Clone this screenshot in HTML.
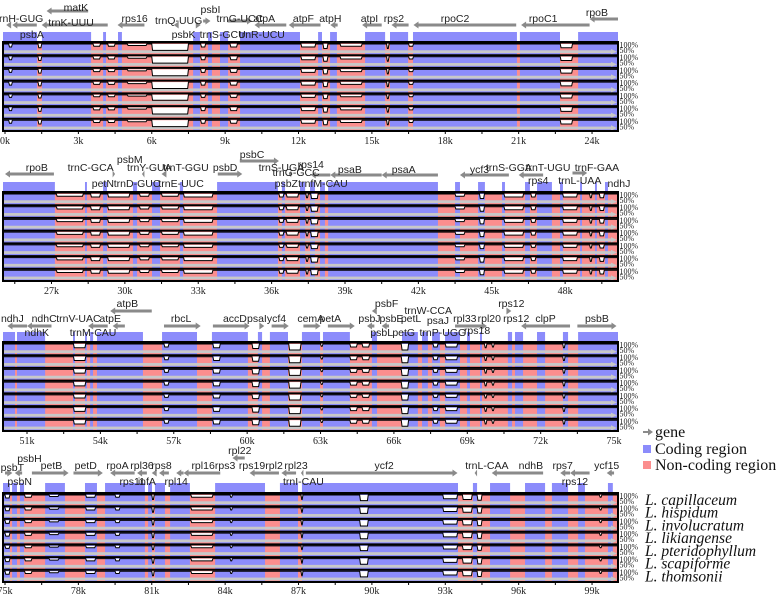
<!DOCTYPE html>
<html><head><meta charset="utf-8">
<style>
html,body{margin:0;padding:0;background:#fff;}
svg{display:block;}
.gl{font-family:"Liberation Sans",sans-serif;font-size:10.5px;fill:#222;}
.tk{font-family:"Liberation Serif",serif;font-size:10px;fill:#222;}
.pc{font-family:"Liberation Serif",serif;font-size:8px;fill:#222;}
.lg{font-family:"Liberation Serif",serif;font-size:16px;fill:#111;}
.sp{font-family:"Liberation Serif",serif;font-size:15.5px;font-style:italic;fill:#111;}
</style></head>
<body>
<svg id="chart" width="778" height="595" viewBox="0 0 778 595"></svg>
<script>
// ---- data ----
const panelStarts = [0, 25.1, 50.1, 75];
const species = ["L. capillaceum","L. hispidum","L. involucratum","L. likiangense","L. pteridophyllum","L. scapiforme","L. thomsonii"];
const speciesScale = [1, 1, 1, 1, 0.85, 1, 1];
const tickValues = [[0,3,6,9,12,15,18,21,24],[27,30,33,36,39,42,45,48],[51,54,57,60,63,66,69,72,75],[75,78,81,84,87,90,93,96,99]];
// non-coding (pink) intervals in kb
const nonCoding1 = [[1.31,1.51],[3.52,4.01],[4.13,4.62],[4.78,7.69],[7.97,8.30],[8.46,8.79],[9.12,9.61],[12.06,12.80],[12.96,13.29],[13.57,14.72],[15.54,15.74],[16.48,16.68],[20.93,21.05],[22.69,23.43]];
const nonCoding2 = [[27.14,28.37],[28.45,29.11],[29.27,30.33],[30.50,31.11],[31.44,32.25],[32.38,33.77],[36.26,36.42],[36.55,37.16],[37.37,37.57],[37.77,37.98],[38.18,38.31],[42.80,43.50],[43.70,44.44],[44.72,45.42],[45.54,46.36],[46.56,46.85],[47.46,47.79],[47.91,48.61],[48.69,49.22],[49.30,49.63],[49.75,50.16]];
const nonCoding3 = [[50.51,50.59],[51.74,52.88],[52.96,53.37],[53.45,53.58],[53.70,53.86],[55.74,56.52],[57.95,58.56],[60.03,60.44],[60.61,60.93],[61.67,62.24],[62.98,63.10],[64.20,65.10],[65.31,66.33],[66.98,67.15],[67.39,67.56],[67.88,68.09],[68.70,68.99],[69.11,69.52],[69.60,70.66],[70.83,70.95],[71.28,71.85],[72.18,72.91],[73.12,73.53]];
const nonCoding4 = [[75.20,75.29],[75.49,75.61],[75.78,76.64],[77.45,78.27],[78.76,79.09],[80.72,80.85],[81.01,81.13],[81.54,81.75],[82.56,83.59],[85.63,86.24],[86.98,87.14],[93.52,94.13],[94.30,94.83],[95.65,96.26],[97.08,97.36],[98.02,98.43],[98.71,99.65],[99.85,100.06]];
// conservation dips: [start kb, end kb, depth fraction]
const dips1 = [[0.15,0.3,0.4],[1.35,1.5,0.5],[3.6,3.9,0.3],[4.2,4.5,0.3],[5.0,5.8,0.2],[6.0,7.5,0.85],[8.0,8.2,0.4],[9.2,9.5,0.4],[12.1,12.7,0.4],[13.0,13.2,0.6],[13.7,14.6,0.3],[15.6,15.7,0.6],[16.5,16.7,0.3],[22.7,23.2,0.5]];
const dips2 = [[27.2,28.3,0.3],[28.6,29.0,0.4],[29.3,30.2,0.4],[30.6,31.0,0.3],[31.5,32.2,0.3],[32.4,33.6,0.4],[36.3,36.5,0.4],[36.6,37.1,0.4],[37.4,37.5,0.5],[37.6,37.9,0.6],[43.5,43.9,0.3],[44.5,44.7,0.6],[45.5,46.3,0.4],[46.6,46.8,0.4],[47.9,48.5,0.4],[49.0,49.1,0.5],[49.4,49.6,0.5]];
const dips3 = [[52.9,53.4,0.5],[56.6,56.8,0.4],[58.6,58.9,0.5],[60.2,60.5,0.6],[61.7,62.2,0.8],[63.0,63.1,0.3],[64.2,64.5,0.4],[64.7,65.0,0.4],[66.3,66.6,0.8],[67.6,67.8,0.4],[68.1,68.6,0.4],[69.7,69.8,0.5],[70.0,70.1,0.4],[72.9,73.0,0.5]];
const dips4 = [[75.0,75.2,0.4],[75.8,76.1,0.3],[76.8,77.2,0.2],[78.3,78.7,0.3],[79.5,79.7,0.3],[81.0,81.1,0.6],[82.6,83.5,0.3],[84.2,84.3,0.3],[87.1,87.16,0.6],[89.5,89.85,0.75],[92.9,93.5,0.5],[93.7,94.1,0.6],[94.3,94.5,0.7],[99.3,99.4,0.3]];
const nonCoding = [nonCoding1, nonCoding2, nonCoding3, nonCoding4];
const dips = [dips1, dips2, dips3, dips4];
// gene labels [text, kb, yOffset]
const genes1 = [["trnH-GUG",0.6,-24],["matK",2.9,-35],["trnK-UUU",2.7,-20],["psbA",1.1,-8],["rps16",5.3,-24],["trnQ-UUG",7.1,-22],["psbI",8.4,-33],["trnG-UCC",9.6,-24],["psbK",7.3,-8],["trnS-GCU",8.9,-8],["trnR-UCU",10.5,-8],["atpA",10.6,-24],["atpF",12.2,-24],["atpH",13.3,-24],["atpI",14.9,-24],["rps2",15.9,-24],["rpoC2",18.4,-24],["rpoC1",22.0,-24],["rpoB",24.2,-30]];
const genes2 = [["rpoB",26.4,-24],["trnC-GCA",28.6,-24],["petN",29.1,-8],["psbM",30.2,-32],["trnY-GUA",31.0,-24],["trnD-GUC",30.5,-8],["trnT-GGU",32.5,-24],["trnE-UUC",32.3,-8],["psbD",34.1,-24],["psbC",35.2,-37],["trnS-UGA",36.4,-24],["rps14",37.6,-27],["trnG-GCC",37.0,-19],["psbZ",36.6,-8],["trnfM-CAU",38.1,-8],["psaB",39.2,-22],["psaA",41.4,-22],["ycf3",44.5,-22],["trnS-GGA",45.7,-24],["trnT-UGU",47.3,-24],["rps4",46.9,-11],["trnF-GAA",49.3,-24],["trnL-UAA",48.6,-11],["ndhJ",50.2,-8]];
const genes3 = [["ndhJ",50.4,-19],["ndhC",51.7,-19],["ndhK",51.4,-5],["trnV-UAC",53.1,-19],["atpE",54.4,-19],["trnM-CAU",53.7,-5],["atpB",55.1,-34],["rbcL",57.3,-19],["accD",59.5,-19],["psaI",60.4,-19],["ycf4",61.2,-19],["cemA",62.6,-19],["petA",63.4,-19],["psbF",65.7,-34],["psbJ",65.0,-19],["psbE",65.9,-19],["psbL",65.5,-5],["trnW-CCA",67.4,-27],["petL",66.7,-19],["psaJ",67.8,-17],["petG",66.4,-5],["trnP-UGG",68.0,-5],["rpl33",68.9,-19],["rpl20",69.9,-19],["rps18",69.4,-7],["rps12",70.8,-34],["rps12",71.0,-19],["clpP",72.2,-19],["psbB",74.3,-19]];
const genes4 = [["psbT",75.3,-14],["psbH",76.0,-23],["psbN",75.6,0],["petB",76.9,-16],["petD",78.3,-16],["rpoA",79.6,-16],["rpl36",80.6,-16],["rps11",80.2,0],["infA",80.8,0],["rps8",81.4,-16],["rpl14",82.0,0],["rpl16",83.1,-16],["rpl22",84.6,-31],["rps3",84.0,-16],["rps19",85.1,-16],["rpl2",86.0,-16],["rpl23",86.9,-16],["trnI-CAU",87.2,0],["ycf2",90.5,-16],["trnL-CAA",94.7,-16],["ndhB",96.5,-16],["rps7",97.8,-16],["rps12",98.3,0],["ycf15",99.6,-16]];
const geneLabels = [genes1, genes2, genes3, genes4];
// gene arrows [start kb, end kb, yOffset, direction]
const arrows1 = [[1.7,3.4,-31,-1],[1.5,4.2,-17,-1],[0.05,0.25,-17,-1],[0.3,1.3,-17,-1],[4.6,5.7,-17,-1],[6.9,7.1,-17,-1],[7.8,8.0,-17,1],[8.1,8.4,-21,1],[9.1,10.1,-21,1],[10.2,11.5,-17,-1],[11.6,12.9,-17,-1],[13.3,13.6,-17,-1],[14.6,15.4,-17,-1],[15.8,16.5,-17,-1],[16.7,20.9,-17,-1],[21.1,23.9,-17,-1],[23.9,25.1,-23,-1]];
const arrows2 = [[25.1,27.1,-17,-1],[29.5,29.6,-17,1],[30.7,30.8,-17,-1],[31.5,31.7,-17,-1],[33.8,34.8,-17,1],[34.7,36.3,-30,1],[36.7,36.8,-17,-1],[37.6,38.4,-16,-1],[38.4,40.5,-16,-1],[40.5,42.8,-16,-1],[43.7,45.7,-16,-1],[46.1,47.1,-16,-1],[48.3,48.9,-18,1]];
const arrows3 = [[50.2,51.0,-11,-1],[51.0,52.0,-11,-1],[54.4,56.1,-26,-1],[53.5,54.3,-11,-1],[54.5,55.0,-11,-1],[56.6,58.1,-11,1],[58.6,60.1,-11,1],[60.5,60.7,-11,1],[61.0,61.7,-11,1],[62.3,63.0,-11,1],[63.3,64.4,-11,1],[65.1,65.3,-26,-1],[64.9,65.2,-11,-1],[65.5,65.8,-11,-1],[68.5,69.8,-11,1],[70.6,70.8,-26,1],[71.2,73.2,-11,-1],[73.5,75.1,-11,1]];
const arrows4 = [[75.0,75.3,-8,1],[75.4,75.7,-8,-1],[76.1,77.6,-8,1],[77.8,79.0,-8,1],[79.3,80.3,-8,-1],[80.4,80.8,-8,-1],[81.0,81.2,-8,-1],[81.3,81.7,-8,-1],[82.0,82.3,-8,-1],[82.3,83.8,-8,-1],[84.3,84.8,-23,-1],[85.0,86.2,-8,-1],[86.3,86.9,-8,-1],[87.1,87.2,-8,-1],[87.3,93.5,-8,1],[94.2,94.3,-8,-1],[94.9,97.0,-8,-1],[97.7,98.1,-8,-1],[98.1,98.9,-8,-1],[99.6,99.9,-8,-1]];
const geneArrows = [arrows1, arrows2, arrows3, arrows4];

// ---- layout ----
const NS = "http://www.w3.org/2000/svg";
const svg = document.getElementById("chart");
const panelTops = [42, 192, 342, 493];
const annotShift = [0, -1, -5, -12];
const L = 3, R = 618, H = 89, SCALE = 24.46;
const BLUE = "#8c8cfb", PINK = "#fb8e8e";
function xScale(p, kb) { return 5 + (kb - panelStarts[p]) * SCALE; }
function clampX(x) { return Math.max(L, Math.min(R, x)); }
function mk(tag, attrs, parent) {
  const e = document.createElementNS(NS, tag);
  for (const k in attrs) e.setAttribute(k, attrs[k]);
  (parent || svg).appendChild(e);
  return e;
}

for (let p = 0; p < 4; p++) {
  const top = panelTops[p];
  const g = mk("g", {});
  
  
  const end = panelStarts[p] + (R - 5) / SCALE;
  const nc = nonCoding[p];
  const coding = [];
  let cur = panelStarts[p] - 1;
  nc.forEach(iv => { if (iv[0] > cur) coding.push([cur, iv[0]]); cur = iv[1]; });
  if (cur < end + 1) coding.push([cur, end + 1]);
  coding.forEach(iv => {
    const x1 = clampX(xScale(p, iv[0])), x2 = clampX(xScale(p, iv[1]));
    if (x2 - x1 > 0.5) {
      const r = mk("rect", {x: x1, y: top - 10, width: x2 - x1, height: 10, fill: BLUE}, g);
      
      
    }
  });
  const bg = mk("rect", {x: L, y: top, width: R - L, height: H, fill: BLUE}, g);
  
  
  nc.forEach(iv => {
    const x1 = clampX(xScale(p, iv[0])), x2 = clampX(xScale(p, iv[1]));
    if (x2 - x1 > 0) {
      const r = mk("rect", {x: x1, y: top, width: x2 - x1, height: H, fill: PINK}, g);
      
      
    }
  });
  const rh = H / 7;
  for (let i = 0; i < 7; i++) {
    const ry = top + i * rh;
    const band = mk("rect", {x: L, y: ry + 8.3, width: R - L - 6, height: 2.8, fill: "#c8c8c8"}, g);
    
    
    const tri = mk("polygon", {points: `${R-7},${ry+7} ${R-1},${ry+9.7} ${R-7},${ry+12.3}`, fill: "#c8c8c8"}, g);
    
    
    const y0 = ry + 2;
    let d = `M${L},${y0}`;
    dips[p].forEach(dp => {
      const x1 = xScale(p, dp[0]), x2 = Math.max(xScale(p, dp[1]), x1 + 2);
      const dy = dp[2] * speciesScale[i] * 7.5;
      d += ` L${x1},${y0} L${x1 + 0.8},${y0 + dy} L${x2 - 0.8},${y0 + dy} L${x2},${y0}`;
    });
    d += ` L${R},${y0}`;
    const cv = mk("path", {d: d, fill: "#fff", stroke: "#000", "stroke-width": 1}, g);
    
    
    const sep = mk("line", {x1: L, x2: R, y1: ry + 0.5, y2: ry + 0.5, stroke: "#000", "stroke-width": 2}, g);
    
    
    const t1 = mk("text", {x: R + 1.5, y: ry + 5.5, class: "pc"}, g);
    t1.textContent = "100%";
    
    
    const t2 = mk("text", {x: R + 1.5, y: ry + 11, class: "pc"}, g);
    t2.textContent = "50%";
    
    
  }
  const box = mk("rect", {x: L, y: top, width: R - L, height: H, fill: "none", stroke: "#000", "stroke-width": 2}, g);
  
  
  for (let k = panelStarts[p] - 1.5; k <= end + 0.01; k += 1.5) {
    const kk = Math.round(k / 1.5) * 1.5;
    const x = xScale(p, kk);
    if (x < L || x > R + 0.5) continue;
    const tk = mk("line", {x1: x, x2: x, y1: top + H, y2: top + H + 3, stroke: "#000", "stroke-width": 1}, g);
    
    
  }
  tickValues[p].forEach(v => {
    const t = mk("text", {x: xScale(p, v), y: Math.min(top + H + 13, 594), "text-anchor": "middle", class: "tk"}, g);
    t.textContent = v + "k";
    
    
  });
  geneArrows[p].forEach(a => {
    const x1 = clampX(xScale(p, a[0])), x2 = clampX(xScale(p, a[1]));
    const y = top + a[2] + annotShift[p];
    let pts;
    const hl = Math.min(5, (x2 - x1));
    if (a[3] > 0) pts = `${x1},${y-1.5} ${x2-hl},${y-1.5} ${x2-hl},${y-3.5} ${x2},${y} ${x2-hl},${y+3.5} ${x2-hl},${y+1.5} ${x1},${y+1.5}`;
    else pts = `${x2},${y-1.5} ${x1+hl},${y-1.5} ${x1+hl},${y-3.5} ${x1},${y} ${x1+hl},${y+3.5} ${x1+hl},${y+1.5} ${x2},${y+1.5}`;
    const ar = mk("polygon", {points: pts, fill: "#8a8a8a"}, g);
    
    
  });
  geneLabels[p].forEach(gl => {
    const t = mk("text", {x: xScale(p, gl[1]), y: top + gl[2] + annotShift[p] + 4, "text-anchor": "middle", class: "gl"}, g);
    t.textContent = gl[0];
    
    
  });
}

// legend
const lg = mk("g", {});


const la = mk("polygon", {points: "643,431 648,431 648,428.5 653,432 648,435.5 648,433 643,433", fill: "#8a8a8a"}, lg);


const lt1 = mk("text", {x: 655, y: 437, class: "lg"}, lg);
lt1.textContent = "gene";


const ls2 = mk("rect", {x: 643, y: 445, width: 8, height: 8, fill: BLUE}, lg);


const lt2 = mk("text", {x: 655, y: 454, class: "lg"}, lg);
lt2.textContent = "Coding region";


const ls3 = mk("rect", {x: 643, y: 461, width: 8, height: 8, fill: PINK}, lg);


const lt3 = mk("text", {x: 655, y: 470, class: "lg"}, lg);
lt3.textContent = "Non-coding region";



species.forEach((s, i) => {
  const t = mk("text", {x: 645, y: panelTops[3] + i * (H / 7) + 12, class: "sp"});
  t.textContent = s;
  
  
});
</script>
</body></html>
